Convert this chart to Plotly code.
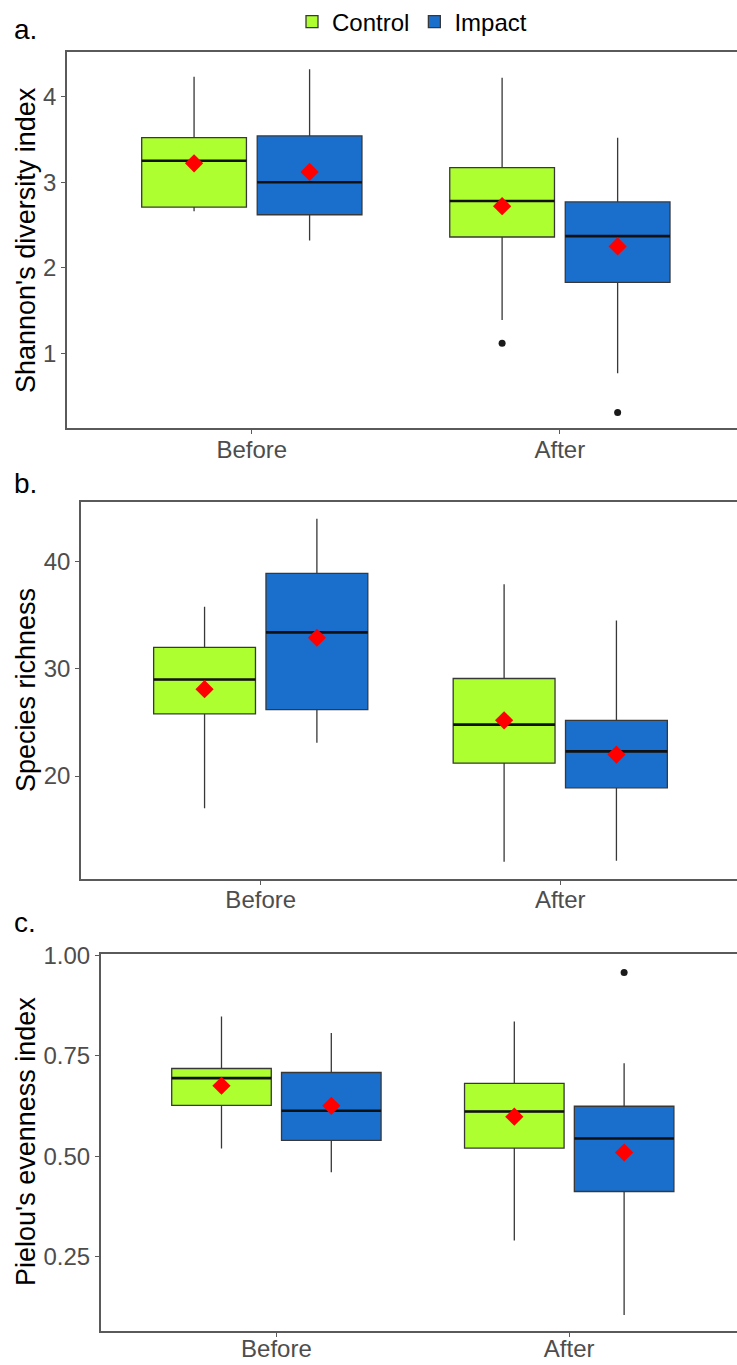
import plotly.graph_objects as go

# Sampling periods (x categories) and treatment groups
periods = ["Before", "After"]
groups = ["Control", "Impact"]
group_colors = {"Control": "#ADFF2F", "Impact": "#1B6FCC"}

# a. Shannon's diversity index, one value per period [Before, After]
shannon_lower = {"Control": [2.66, 1.39], "Impact": [2.32, 0.77]}
shannon_q1 = {"Control": [2.71, 2.36], "Impact": [2.62, 1.83]}
shannon_median = {"Control": [3.25, 2.78], "Impact": [3.00, 2.37]}
shannon_q3 = {"Control": [3.52, 3.17], "Impact": [3.54, 2.77]}
shannon_upper = {"Control": [4.23, 4.22], "Impact": [4.32, 3.52]}
shannon_mean = {"Control": [3.22, 2.72], "Impact": [3.12, 2.25]}
shannon_outliers = {"Control": [[], [1.12]], "Impact": [[], [0.31]]}

# b. Species richness
richness_lower = {"Control": [17.0, 12.0], "Impact": [23.1, 12.1]}
richness_q1 = {"Control": [25.8, 21.2], "Impact": [26.2, 18.9]}
richness_median = {"Control": [29.0, 24.8], "Impact": [33.4, 22.3]}
richness_q3 = {"Control": [32.0, 29.1], "Impact": [38.9, 25.2]}
richness_upper = {"Control": [35.8, 37.9], "Impact": [44.0, 34.5]}
richness_mean = {"Control": [28.1, 25.2], "Impact": [32.9, 22.0]}
richness_outliers = {"Control": [[], []], "Impact": [[], []]}

# c. Pielou's evenness index
evenness_lower = {"Control": [0.519, 0.290], "Impact": [0.460, 0.105]}
evenness_q1 = {"Control": [0.626, 0.520], "Impact": [0.539, 0.412]}
evenness_median = {"Control": [0.694, 0.611], "Impact": [0.613, 0.544]}
evenness_q3 = {"Control": [0.718, 0.681], "Impact": [0.708, 0.624]}
evenness_upper = {"Control": [0.847, 0.835], "Impact": [0.806, 0.731]}
evenness_mean = {"Control": [0.675, 0.598], "Impact": [0.625, 0.509]}
evenness_outliers = {"Control": [[], []], "Impact": [[], [0.957]]}

# Axis ticks
shannon_ticks = [1, 2, 3, 4]
richness_ticks = [20, 30, 40]
evenness_ticks = [0.25, 0.50, 0.75, 1.00]

W, H = 737, 1365

panels = [
    dict(label="a.", title="Shannon's diversity index",
         lower=shannon_lower, q1=shannon_q1, median=shannon_median, q3=shannon_q3,
         upper=shannon_upper, mean=shannon_mean, outliers=shannon_outliers,
         ticks=shannon_ticks, tickformat="d", yrange=[0.13, 4.52],
         xdomain=[67 / W, 1.0], xright=1.575, ydomain=[1 - 428 / H, 1 - 52 / H],
         label_y=29, title_y=240, xlabel_shift=-5),
    dict(label="b.", title="Species richness",
         lower=richness_lower, q1=richness_q1, median=richness_median, q3=richness_q3,
         upper=richness_upper, mean=richness_mean, outliers=richness_outliers,
         ticks=richness_ticks, tickformat="d", yrange=[10.42, 45.54],
         xdomain=[81 / W, 1.0], xright=1.59, ydomain=[1 - 878.7 / H, 1 - 502.3 / H],
         label_y=483, title_y=690, xlabel_shift=-5),
    dict(label="c.", title="Pielou's evenness index",
         lower=evenness_lower, q1=evenness_q1, median=evenness_median, q3=evenness_q3,
         upper=evenness_upper, mean=evenness_mean, outliers=evenness_outliers,
         ticks=evenness_ticks, tickformat=".2f", yrange=[0.065, 1.002],
         xdomain=[100.7 / W, 1.0], xright=1.573, ydomain=[1 - 1331 / H, 1 - 954.3 / H],
         label_y=922, title_y=1142, xlabel_shift=-9),
]

dodge = 0.75          # total width shared by the two groups at one period
box_width = 0.34      # width of each box in category units
offsets = {g: (i + 0.5) * dodge / len(groups) - dodge / 2 for i, g in enumerate(groups)}

FONT = "Liberation Sans, Arial, sans-serif"
AXIS_GREY = "#5A5A5A"
TICK_GREY = "#4D4D4D"
TICK_SIZE = 24

fig = go.Figure()
layout_axes = {}
annotations = []

for p_i, p in enumerate(panels):
    n = "" if p_i == 0 else str(p_i + 1)
    xa, ya = "x" + n, "y" + n

    for g in groups:
        xs = [k + offsets[g] for k in range(len(periods))]
        fig.add_trace(go.Box(
            x=xs, q1=p["q1"][g], median=p["median"][g], q3=p["q3"][g],
            lowerfence=p["lower"][g], upperfence=p["upper"][g],
            width=box_width, whiskerwidth=0, boxpoints=False,
            fillcolor=group_colors[g], line=dict(color="#383838", width=1.3),
            name=g, legendgroup=g, showlegend=(p_i == 0),
            xaxis=xa, yaxis=ya,
        ))
        # thicker median bar
        mx, my = [], []
        for x, m in zip(xs, p["median"][g]):
            mx += [x - box_width / 2, x + box_width / 2, None]
            my += [m, m, None]
        fig.add_trace(go.Scatter(
            x=mx, y=my, mode="lines", line=dict(color="#111111", width=2.6),
            showlegend=False, hoverinfo="skip", xaxis=xa, yaxis=ya,
        ))
        # outlying observations
        ox, oy = [], []
        for x, pts in zip(xs, p["outliers"][g]):
            ox += [x] * len(pts)
            oy += pts
        if ox:
            fig.add_trace(go.Scatter(
                x=ox, y=oy, mode="markers",
                marker=dict(color="#1A1A1A", size=7, symbol="circle"),
                showlegend=False, xaxis=xa, yaxis=ya,
            ))
        # group means
        fig.add_trace(go.Scatter(
            x=xs, y=p["mean"][g], mode="markers",
            marker=dict(color="#FF0000", size=14, symbol="diamond"),
            showlegend=False, xaxis=xa, yaxis=ya,
        ))

    layout_axes["xaxis" + n] = dict(
        domain=p["xdomain"], range=[-0.6, p["xright"]], anchor=ya,
        tickvals=list(range(len(periods))), ticktext=periods,
        showline=True, mirror=True, linecolor=AXIS_GREY, linewidth=1.6,
        ticks="outside", ticklen=4, tickcolor=AXIS_GREY, tickwidth=1.2,
        ticklabelstandoff=p["xlabel_shift"],
        tickfont=dict(family=FONT, size=TICK_SIZE, color=TICK_GREY),
        showgrid=False, zeroline=False, fixedrange=True, automargin=False,
    )
    layout_axes["yaxis" + n] = dict(
        domain=p["ydomain"], range=p["yrange"], anchor=xa,
        tickvals=p["ticks"], tickformat=p["tickformat"],
        showline=True, linecolor=AXIS_GREY, linewidth=1.6,
        ticks="outside", ticklen=4, tickcolor=AXIS_GREY, tickwidth=1.2,
        tickfont=dict(family=FONT, size=TICK_SIZE, color=TICK_GREY),
        showgrid=False, zeroline=False, fixedrange=True, automargin=False,
    )
    annotations.append(dict(
        text=p["label"], xref="paper", yref="paper", x=12 / W, y=1 - p["label_y"] / H,
        xanchor="left", yanchor="middle", showarrow=False,
        font=dict(family=FONT, size=28, color="#000000"),
    ))
    annotations.append(dict(
        text=p["title"], xref="paper", yref="paper", x=26 / W, y=1 - p["title_y"] / H,
        xanchor="center", yanchor="middle", textangle=-90, showarrow=False,
        font=dict(family=FONT, size=27, color="#000000"),
    ))

fig.update_layout(
    width=W, height=H, autosize=False,
    margin=dict(l=0, r=0, t=0, b=0, autoexpand=False),
    paper_bgcolor="white", plot_bgcolor="white",
    showlegend=True,
    legend=dict(orientation="h", x=292 / W, y=1 - 22 / H, xanchor="left", yanchor="middle",
                font=dict(family=FONT, size=24, color="#000000"),
                itemclick=False, itemdoubleclick=False, bgcolor="rgba(0,0,0,0)"),
    annotations=annotations,
    **layout_axes,
)

fig.write_html("out.html")
